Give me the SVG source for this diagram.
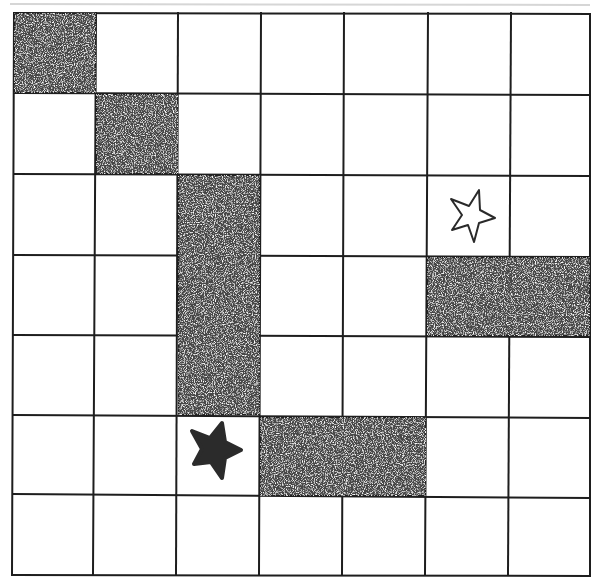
<svg xmlns="http://www.w3.org/2000/svg" width="592" height="577" viewBox="0 0 592 577">
  <defs>
    <filter id="speckle" x="0" y="0" width="100%" height="100%">
      <feTurbulence type="fractalNoise" baseFrequency="0.9" numOctaves="2" seed="4" result="n"/>
      <feColorMatrix in="n" type="matrix" values="0 0 0 0 1  0 0 0 0 1  0 0 0 0 1  3.2 0 0 0 -1.55" result="dots"/>
      <feComposite in="dots" in2="SourceGraphic" operator="atop"/>
    </filter>
  </defs>
  <style>
    .shade { fill: #474747; stroke: #222222; stroke-width: 2; filter: url(#speckle); }
    .grid line { stroke: #1e1e1e; stroke-width: 2; stroke-linecap: square; }
    .star-open { fill: #ffffff; stroke: #2a2a2a; stroke-width: 2; stroke-linejoin: round; }
    .star-solid { fill: #2b2b2b; stroke: #2b2b2b; stroke-width: 4; stroke-linejoin: round; }
  </style>
  <rect x="0" y="0" width="592" height="577" fill="#ffffff"/>
  <line x1="10" y1="4" x2="590" y2="5" stroke="#d6d6d6" stroke-width="2"/>

  <g class="grid" id="grid">
    <line x1="14" y1="13" x2="590" y2="14"/>
    <line x1="14" y1="93" x2="590" y2="95"/>
    <line x1="14" y1="174" x2="590" y2="176"/>
    <line x1="14" y1="255" x2="590" y2="257"/>
    <line x1="14" y1="335" x2="590" y2="337"/>
    <line x1="14" y1="415" x2="590" y2="418"/>
    <line x1="14" y1="494" x2="590" y2="498"/>
    <line x1="14" y1="575" x2="590" y2="576"/>
    <line x1="14" y1="13" x2="12" y2="575"/>
    <line x1="96" y1="13" x2="93" y2="575"/>
    <line x1="178" y1="13" x2="176" y2="575"/>
    <line x1="261" y1="13" x2="259" y2="575"/>
    <line x1="344" y1="13" x2="342" y2="575"/>
    <line x1="428" y1="13" x2="425" y2="575"/>
    <line x1="511" y1="13" x2="508" y2="575"/>
    <line x1="590" y1="14" x2="590" y2="576"/>
  </g>

  <g id="shaded-cells">
    <rect id="cell-r0c0" class="shade" x="14" y="13" width="82" height="80"/>
    <rect id="cell-r1c1" class="shade" x="96" y="94" width="82" height="80"/>
    <rect id="cell-r2-4c2" class="shade" x="178" y="175" width="82" height="240"/>
    <rect id="cell-r3c5-6" class="shade" x="427" y="257" width="163" height="79"/>
    <rect id="cell-r5c3-4" class="shade" x="260" y="417" width="166" height="79"/>
  </g>

  <g id="star-white">
    <polygon class="star-open" points="479,190 480,210 495,218 479,223 474,242 468,225 452,230 462,215 451,199 469,206"/>
  </g>
  <g id="star-black">
    <polygon class="star-solid" points="222,423 225,442 241,450 225,458 222,478 211,462 194,464 202,449 192,431 210,438"/>
  </g>

  <g id="connectors"/>
</svg>
